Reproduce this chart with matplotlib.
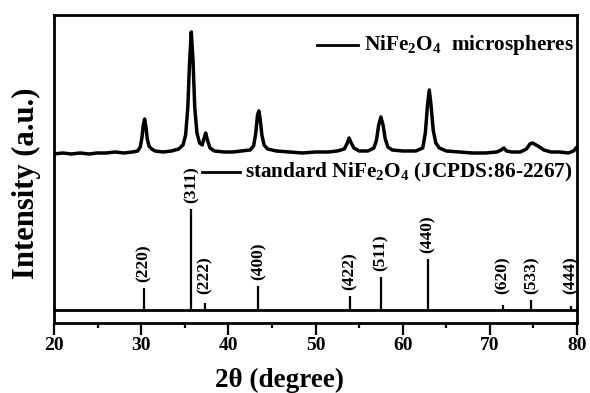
import matplotlib
matplotlib.use("Agg")
import matplotlib.pyplot as plt
from matplotlib.ticker import MultipleLocator

# ---- data ----
# measured XRD pattern of NiFe2O4 microspheres (2theta, intensity a.u.)
two_theta = [20.0, 21, 22, 23, 24, 25, 26, 27, 28, 29, 29.6, 29.9, 30.1, 30.25, 30.4, 30.55,
             30.7, 30.9, 31.2, 31.6, 32.5, 33.5, 34.3, 34.8, 35.1, 35.35, 35.55, 35.75, 35.95,
             36.15, 36.4, 36.7, 37.0, 37.2, 37.4, 37.6, 37.9, 38.4, 39.5, 40.5, 41.5, 42.5,
             42.9, 43.15, 43.35, 43.5, 43.65, 43.85, 44.1, 44.5, 45.5, 47, 48.5, 50, 51.5,
             52.5, 53.3, 53.6, 53.85, 54.1, 54.4, 55, 56, 56.7, 57.0, 57.25, 57.5, 57.75,
             58.0, 58.3, 58.8, 60, 61.5, 62.3, 62.6, 62.85, 63.05, 63.25, 63.5, 63.8, 64.2,
             65, 66.5, 68, 69.5, 70.8, 71.3, 71.6, 71.9, 72.5, 73.5, 74.2, 74.6, 74.9, 75.3,
             75.7, 76.2, 77, 78, 79, 79.6, 80]
intensity = [169, 170, 169, 170, 169, 170, 170, 171, 170, 171, 172, 176, 186, 198, 204, 196,
             184, 177, 174, 172, 171, 172, 174, 178, 188, 215, 260, 291, 262,
             215, 190, 180, 178, 184, 190, 183, 175, 172, 171, 171, 172, 173,
             177, 190, 208, 212, 204, 188, 178, 174, 172, 171, 170, 171, 171,
             172, 174, 179, 185, 180, 175, 172, 172, 175, 183, 198, 206, 198,
             184, 176, 173, 172, 172, 175, 190, 218, 233, 218, 193, 180, 175,
             172, 171, 170, 170, 171, 173, 175, 172, 171, 171, 174, 179, 180, 178,
             176, 173, 171, 171, 170, 172, 176]

# standard NiFe2O4 (JCPDS:86-2267) reflections
std_pos = [30.3, 35.75, 37.3, 43.45, 53.95, 57.5, 62.9, 71.5, 74.75, 79.3]
std_top = [35, 114, 20, 37, 27, 46, 64, 18, 23, 17]
std_hkl = ["(220)", "(311)", "(222)", "(400)", "(422)", "(511)", "(440)", "(620)", "(533)", "(444)"]
std_base = 13

x_ticks = [20, 30, 40, 50, 60, 70, 80]

# ---- style ----
plt.rcParams.update({
    "font.family": ["Liberation Serif", "DejaVu Serif"],
    "font.weight": "bold",
    "mathtext.fontset": "custom",
    "mathtext.rm": "Liberation Serif:bold",
    "mathtext.bf": "Liberation Serif:bold",
    "mathtext.it": "Liberation Serif:bold",
})

fig = plt.figure(figsize=(5.9, 3.93), dpi=100)
ax = fig.add_axes([0.0915, 0.178, 0.8865, 0.784])

ax.plot(two_theta, intensity, color="black", lw=2.5, solid_joinstyle="round")
ax.axhline(std_base, color="black", lw=2.0)
ax.vlines(std_pos, std_base, std_top, color="black", lw=1.6)
for p, t, lab in zip(std_pos, std_top, std_hkl):
    ax.annotate(lab, xy=(p, max(t, 23)), xytext=(0, 4.5), textcoords="offset points",
                rotation=90, ha="center", va="bottom", fontsize=12.5, fontweight="bold")

ax.set_xlim(20, 80)
ax.set_ylim(0, 308)
ax.set_xticks(x_ticks)
ax.xaxis.set_minor_locator(MultipleLocator(5))
ax.set_yticks([])
ax.tick_params(axis="x", which="major", direction="out", length=8.5, width=1.6,
               labelsize=14, pad=1.5)
ax.tick_params(axis="x", which="minor", direction="out", length=3.6, width=1.6)
for lab in ax.get_xticklabels():
    lab.set_fontweight("bold")
for s in ax.spines.values():
    s.set_linewidth(2.0)

ax.set_xlabel("2θ (degree)", fontsize=19.5, fontweight="bold")
ax.xaxis.set_label_coords(0.432, -0.145, transform=ax.transAxes)
ax.xaxis.label.set_va("top")
ax.set_ylabel("Intensity (a.u.)", fontsize=22, fontweight="bold", labelpad=9)
ax.yaxis.label.set_y(0.455)

# legend-like labels
ax.plot([0.503, 0.581], [0.903, 0.903], transform=ax.transAxes, color="black", lw=2.0)
ax.text(0.593, 0.903, r"NiFe$_2$O$_4$  microspheres", transform=ax.transAxes,
        ha="left", va="center", fontsize=15.3, fontweight="bold")
ax.plot([0.283, 0.356], [0.490, 0.490], transform=ax.transAxes, color="black", lw=2.0)
ax.text(0.365, 0.490, r"standard NiFe$_2$O$_4$ (JCPDS:86-2267)", transform=ax.transAxes,
        ha="left", va="center", fontsize=15.3, fontweight="bold")

fig.savefig("out.png", dpi=100)
